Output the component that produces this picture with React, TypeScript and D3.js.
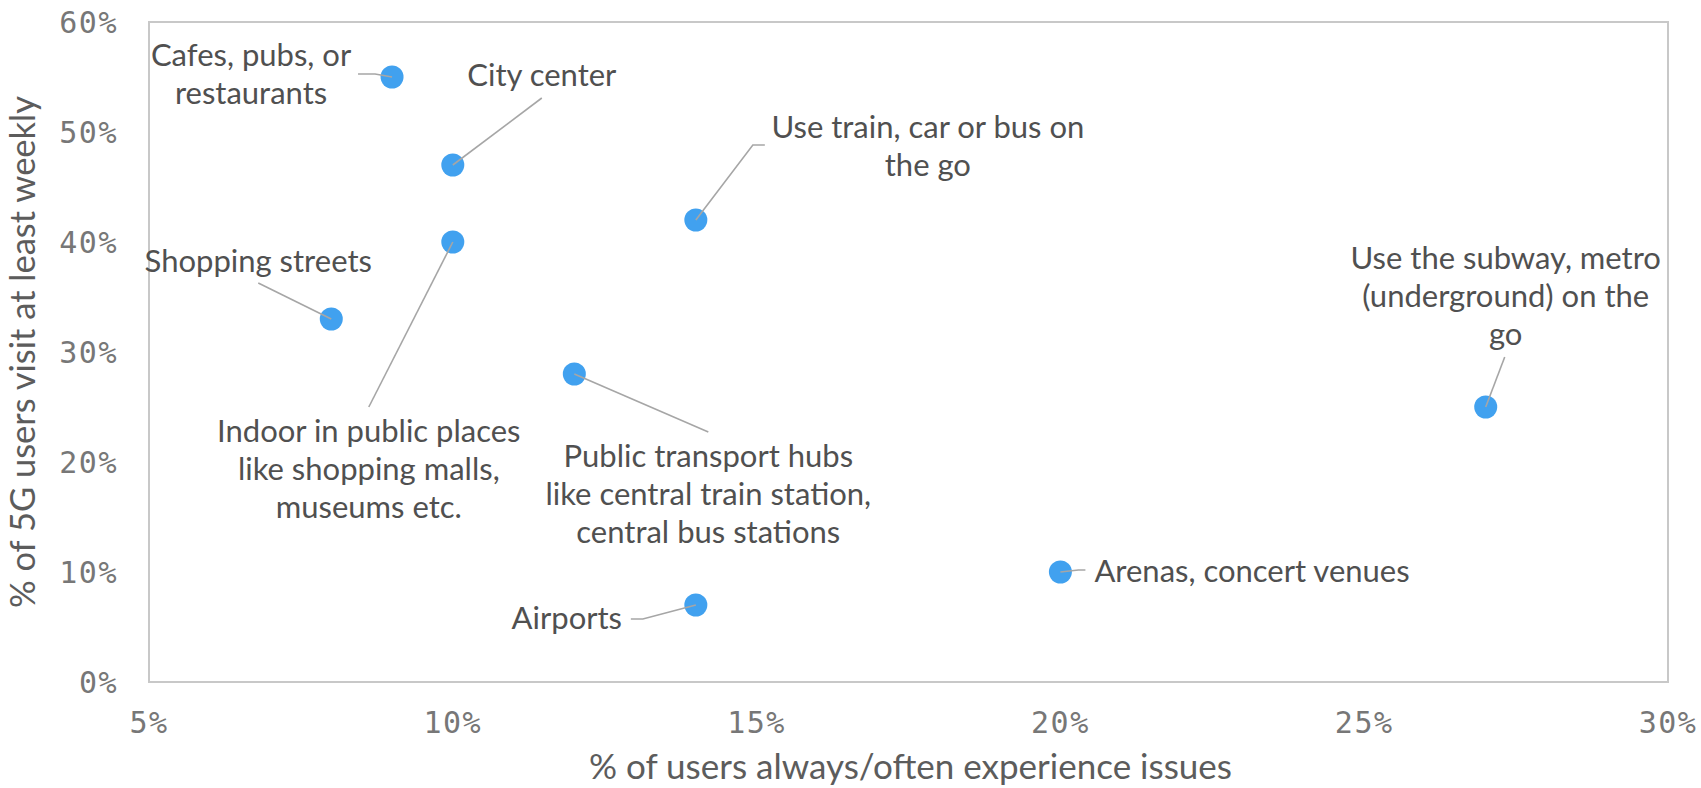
import React from "react";
import * as d3 from "d3";

const categories = [
  "Cafes, pubs, or restaurants",
  "City center",
  "Indoor in public places like shopping malls, museums etc.",
  "Shopping streets",
  "Use train, car or bus on the go",
  "Public transport hubs like central train station, central bus stations",
  "Airports",
  "Arenas, concert venues",
  "Use the subway, metro (underground) on the go",
];
const issuesPct = [0.09, 0.10, 0.10, 0.08, 0.14, 0.12, 0.14, 0.20, 0.27];
const weeklyPct = [0.55, 0.47, 0.40, 0.33, 0.42, 0.28, 0.07, 0.10, 0.25];
const labelLines = [
  ["Cafes, pubs, or", "restaurants"],
  ["City center"],
  ["Indoor in public places", "like shopping malls,", "museums etc."],
  ["Shopping streets"],
  ["Use train, car or bus on", "the go"],
  ["Public transport hubs", "like central train station,", "central bus stations"],
  ["Airports"],
  ["Arenas, concert venues"],
  ["Use the subway, metro", "(underground) on the", "go"],
];
const xTicks = [0.05, 0.10, 0.15, 0.20, 0.25, 0.30];
const yTicks = [0, 0.1, 0.2, 0.3, 0.4, 0.5, 0.6];
const xTitle = "% of users always/often experience issues";
const yTitle = "% of 5G users visit at least weekly";

// label layout: text offset (dx, dy to first baseline), anchor, leader path offsets
const labelLayout: { dx: number; dy: number; anchor: string; leader: [number, number][] }[] = [
  { dx: -141, dy: -11, anchor: "middle", leader: [[-34, -3], [-17, -3], [0, 0]] },
  { dx: 89, dy: -79, anchor: "middle", leader: [[89, -67], [0, 0]] },
  { dx: -84, dy: 200, anchor: "middle", leader: [[-84, 165], [0, 0]] },
  { dx: -73, dy: -47, anchor: "middle", leader: [[-73, -36], [0, 0]] },
  { dx: 232, dy: -82, anchor: "middle", leader: [[69, -75], [57, -75], [0, 0]] },
  { dx: 134, dy: 93, anchor: "middle", leader: [[134, 58], [0, 0]] },
  { dx: -129, dy: 24, anchor: "middle", leader: [[-65, 14], [-53, 14], [0, 0]] },
  { dx: 34, dy: 10, anchor: "start", leader: [[25, -2], [18, -2], [0, 0]] },
  { dx: 20, dy: -138, anchor: "middle", leader: [[19, -50], [0, 0]] },
];

const W = 1701;
const H = 788;
const plot = { left: 149, right: 1668, top: 22, bottom: 682 };
const LABEL_FONT = "Lato, 'Open Sans', sans-serif";
const MONO_FONT = "'DejaVu Sans Mono', monospace";

export default function App() {
  const x = d3.scaleLinear().domain([0.05, 0.3]).range([plot.left, plot.right]);
  const y = d3.scaleLinear().domain([0, 0.6]).range([plot.bottom, plot.top]);
  const fmt = d3.format(".0%");
  const line = d3.line();

  return (
    <div style={{ position: "absolute", left: 0, top: 0 }}>
      <svg width={W} height={H} style={{ display: "block", background: "#fff" }}>
        <rect
          x={plot.left}
          y={plot.top}
          width={plot.right - plot.left}
          height={plot.bottom - plot.top}
          fill="none"
          stroke="#c8c8c8"
          strokeWidth={2}
        />
        {yTicks.map((t) => (
          <text
            key={"y" + t}
            x={plot.left - 31}
            y={y(t)}
            dy="0.36em"
            textAnchor="end"
            fontFamily={MONO_FONT}
            fontSize={30}
            letterSpacing={1.5}
            fill="#777777"
          >
            {fmt(t)}
          </text>
        ))}
        {xTicks.map((t) => (
          <text
            key={"x" + t}
            x={x(t)}
            y={733}
            textAnchor="middle"
            fontFamily={MONO_FONT}
            fontSize={30}
            letterSpacing={1.5}
            fill="#777777"
          >
            {fmt(t)}
          </text>
        ))}
        <text
          x={(plot.left + plot.right) / 2 + 2}
          y={779}
          textAnchor="middle"
          fontFamily={LABEL_FONT}
          fontSize={35}
          fill="#5c5c5c"
        >
          {xTitle}
        </text>
        <text
          transform={`translate(35, ${(plot.top + plot.bottom) / 2}) rotate(-90)`}
          textAnchor="middle"
          fontFamily={LABEL_FONT}
          fontSize={34.5}
          fill="#5c5c5c"
        >
          {yTitle}
        </text>
        {categories.map((c, i) => {
          const px = x(issuesPct[i]);
          const py = y(weeklyPct[i]);
          const L = labelLayout[i];
          return (
            <g key={"pt" + i}>
              <circle cx={px} cy={py} r={11.5} fill="#41a1ef" />
              <path
                d={line(L.leader.map(([dx, dy]) => [px + dx, py + dy])) || ""}
                fill="none"
                stroke="#a6a6a6"
                strokeWidth={1.6}
              />
              <text
                x={px + L.dx}
                y={py + L.dy}
                textAnchor={L.anchor}
                fontFamily={LABEL_FONT}
                fontSize={31}
                fill="#505050"
              >
                {labelLines[i].map((ln, j) => (
                  <tspan key={j} x={px + L.dx} y={py + L.dy + j * 38}>
                    {ln}
                  </tspan>
                ))}
              </text>
            </g>
          );
        })}
      </svg>
    </div>
  );
}
